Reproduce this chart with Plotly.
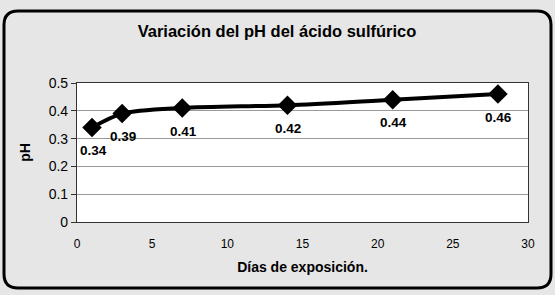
import plotly.graph_objects as go

dias = [1, 3, 7, 14, 21, 28]
ph = [0.34, 0.39, 0.41, 0.42, 0.44, 0.46]
etiquetas = ["0.34", "0.39", "0.41", "0.42", "0.44", "0.46"]
x_ticks = [0, 5, 10, 15, 20, 25, 30]
y_ticks = [0, 0.1, 0.2, 0.3, 0.4, 0.5]
y_tick_text = ["0", "0.1", "0.2", "0.3", "0.4", "0.5"]

W, H = 555, 295
L, R, T, B = 77, 27, 83, 73
pw, ph_ = W - L - R, H - T - B

def px2paper(x, y):
    return (x - L) / pw, (H - B - y) / ph_

fig = go.Figure()
fig.add_trace(go.Scatter(
    x=dias, y=ph, mode="lines+markers",
    line=dict(color="black", width=4, shape="spline", smoothing=0.8),
    marker=dict(symbol="diamond", size=15, color="black"),
    showlegend=False, hoverinfo="x+y",
))

for xv, yv, t in zip(dias, ph, etiquetas):
    fig.add_annotation(x=xv, y=yv, text="<b>%s</b>" % t, showarrow=False,
                       yshift=-23, xshift=1, font=dict(size=13.5, color="black",
                       family="Liberation Sans, Arial"))

# rounded frame
x0, y0, x1, y1, r = 4, 11, 551, 288, 14
def P(x, y):
    a, b = px2paper(x, y)
    return f"{a:.5f},{b:.5f}"
path = (f"M {P(x0 + r, y0)} L {P(x1 - r, y0)} Q {P(x1, y0)} {P(x1, y0 + r)} "
        f"L {P(x1, y1 - r)} Q {P(x1, y1)} {P(x1 - r, y1)} "
        f"L {P(x0 + r, y1)} Q {P(x0, y1)} {P(x0, y1 - r)} "
        f"L {P(x0, y0 + r)} Q {P(x0, y0)} {P(x0 + r, y0)} Z")
fig.add_shape(type="path", xref="paper", yref="paper", path=path,
              line=dict(color="black", width=3), layer="below")

fig.update_layout(
    width=W, height=H,
    margin=dict(l=L, r=R, t=T, b=B),
    paper_bgcolor="#e6e6e6",
    plot_bgcolor="white",
    font=dict(family="Liberation Sans, Arial", color="black"),
    title=dict(text="<b>Variación del pH del ácido sulfúrico</b>",
               x=(277 - L) / pw, xanchor="center", y=1 - 31 / H, yanchor="middle",
               xref="paper",
               font=dict(size=16.5, color="black")),
    xaxis=dict(range=[0, 30], tickvals=x_ticks, showgrid=False, zeroline=False,
               showline=True, linecolor="#333", linewidth=1.2, mirror=True,
               ticks="", tickfont=dict(size=12), ticklabelstandoff=10,
               title=dict(text="<b>Días de exposición.</b>", font=dict(size=14),
                          standoff=12)),
    yaxis=dict(range=[0, 0.5], tickvals=y_ticks, ticktext=y_tick_text,
               showgrid=True, gridcolor="#9a9a9a", gridwidth=1, zeroline=False,
               showline=True, linecolor="#333", linewidth=1.2, mirror=True,
               ticks="outside", ticklen=5, tickcolor="#333",
               tickfont=dict(size=14),
               title=dict(text="<b>pH</b>", font=dict(size=14), standoff=14)),
)

fig.write_html("out.html")
